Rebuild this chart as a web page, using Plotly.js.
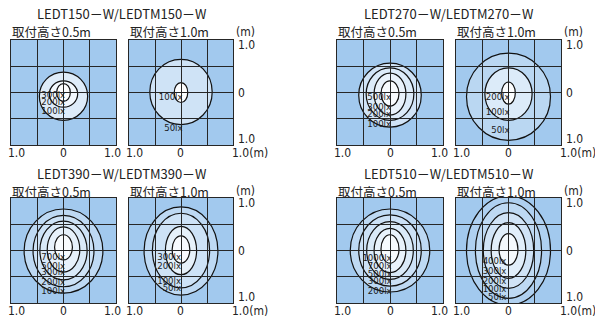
<!DOCTYPE html>
<html><head><meta charset="utf-8">
<script src="https://cdn.plot.ly/plotly-3.0.1.min.js"></script>
<style>html,body{margin:0;padding:0;background:#fff}</style>
</head><body><div id="chart" style="width:595px;height:320px"></div>
<script>
// ---------- data ----------
const models = ["LEDT150－W/LEDTM150－W", "LEDT270－W/LEDTM270－W", "LEDT390－W/LEDTM390－W", "LEDT510－W/LEDTM510－W"];
const heights = ["取付高さ0.5m", "取付高さ1.0m"];
const xTickText = ["1.0", "0", "1.0"];
const yTickText = ["1.0", "0", "1.0"];

// each panel: contour levels (outer -> inner), ellipse centre y (m), semi-axes (m), labels
const p1Lux = [100, 200, 300];
const p1Cy = [-0.07, -0.03, 0.0];
const p1Rx = [0.46, 0.27, 0.13];
const p1Ry = [0.46, 0.25, 0.17];
const p1Labels = ["300lx", "200lx", "100lx"];
const p1LabelY = [-0.05, -0.2, -0.37];

const p2Lux = [50, 100];
const p2Cy = [0.01, 0.0];
const p2Rx = [0.6, 0.13];
const p2Ry = [0.62, 0.19];
const p2Labels = ["100lx", "50lx"];
const p2LabelY = [-0.1, -0.68];

const p3Lux = [100, 200, 300, 500];
const p3Cy = [-0.05, -0.03, -0.03, -0.02];
const p3Rx = [0.59, 0.45, 0.3, 0.17];
const p3Ry = [0.61, 0.5, 0.4, 0.24];
const p3Labels = ["500lx", "300lx", "200lx", "100lx"];
const p3LabelY = [-0.1, -0.28, -0.43, -0.62];

const p4Lux = [50, 100, 200];
const p4Cy = [-0.08, -0.03, -0.01];
const p4Rx = [0.8, 0.45, 0.13];
const p4Ry = [0.83, 0.5, 0.21];
const p4Labels = ["200lx", "100lx", "50lx"];
const p4LabelY = [-0.1, -0.39, -0.73];

const p5Lux = [100, 200, 300, 500, 700];
const p5Cy = [-0.01, -0.01, 0.0, 0.02, 0.06];
const p5Rx = [0.75, 0.58, 0.45, 0.31, 0.17];
const p5Ry = [0.8, 0.68, 0.56, 0.43, 0.24];
const p5Labels = ["700lx", "500lx", "300lx", "200lx", "100lx"];
const p5LabelY = [-0.14, -0.31, -0.43, -0.62, -0.79];

const p6Lux = [50, 100, 200, 300];
const p6Cy = [-0.01, 0.0, 0.0, 0.02];
const p6Rx = [0.71, 0.55, 0.3, 0.17];
const p6Ry = [0.84, 0.71, 0.46, 0.26];
const p6Labels = ["300lx", "200lx", "100lx", "50lx"];
const p6LabelY = [-0.14, -0.31, -0.6, -0.73];

const p7Lux = [200, 300, 500, 700, 1000];
const p7Cy = [0.0, 0.0, 0.0, 0.0, 0.03];
const p7Rx = [0.75, 0.59, 0.44, 0.3, 0.17];
const p7Ry = [0.79, 0.68, 0.55, 0.42, 0.27];
const p7Labels = ["1000lx", "700lx", "500lx", "300lx", "200lx"];
const p7LabelY = [-0.16, -0.31, -0.45, -0.6, -0.79];

const p8Lux = [50, 100, 200, 300, 400];
const p8Cy = [0.0, 0.0, 0.0, 0.0, 0.02];
const p8Rx = [0.8, 0.63, 0.48, 0.33, 0.18];
const p8Ry = [1.04, 0.91, 0.72, 0.53, 0.3];
const p8Labels = ["400lx", "300lx", "200lx", "100lx", "50lx"];
const p8LabelY = [-0.22, -0.41, -0.6, -0.75, -0.9];

// ---------- layout helpers ----------
const W = 595, H = 320;
const px = x => x / W;
const py = y => 1 - y / H;
const boxes = [[11,116,40,145],[129,233,40,145],[337,443,40,145],[456,561,40,145],
               [11,116,198,303],[129,233,198,303],[337,443,198,303],[456,561,198,303]];
const panels = [
  {cy:p1Cy, rx:p1Rx, ry:p1Ry, lab:p1Labels, labY:p1LabelY, labX:0.03},
  {cy:p2Cy, rx:p2Rx, ry:p2Ry, lab:p2Labels, labX:0.03, labY:p2LabelY},
  {cy:p3Cy, rx:p3Rx, ry:p3Ry, lab:p3Labels, labY:p3LabelY, labX:0.02},
  {cy:p4Cy, rx:p4Rx, ry:p4Ry, lab:p4Labels, labY:p4LabelY, labX:0.02},
  {cy:p5Cy, rx:p5Rx, ry:p5Ry, lab:p5Labels, labY:p5LabelY, labX:0.03},
  {cy:p6Cy, rx:p6Rx, ry:p6Ry, lab:p6Labels, labY:p6LabelY, labX:0.0},
  {cy:p7Cy, rx:p7Rx, ry:p7Ry, lab:p7Labels, labY:p7LabelY, labX:0.03},
  {cy:p8Cy, rx:p8Rx, ry:p8Ry, lab:p8Labels, labY:p8LabelY, labX:-0.04}
];
const BG = [162, 201, 238];
const mix = t => 'rgb(' + BG.map(c => Math.round(c + (255 - c) * t)).join(',') + ')';
const TXT = '#222';
const jpFont = {family: 'Noto Sans CJK JP, Noto Sans, sans-serif', size: 12.5, color: TXT};
const numFont = {family: 'Liberation Sans Narrow, DejaVu Sans Condensed, Liberation Sans, sans-serif', size: 12, color: TXT};
const labFont = {family: 'Liberation Sans Narrow, DejaVu Sans Condensed, Liberation Sans, sans-serif', size: 9.5, color: '#1a1a1a'};

const traces = [], shapes = [], annotations = [];
const layout = {
  width: W, height: H, margin: {l:0, r:0, t:0, b:0},
  paper_bgcolor: '#fff', plot_bgcolor: mix(0), showlegend: false,
  font: {family: 'Liberation Sans, sans-serif', color: TXT}
};

panels.forEach((p, i) => {
  const n = i + 1, sfx = n > 1 ? String(n) : '';
  const xa = 'x' + sfx, ya = 'y' + sfx;
  const b = boxes[i];
  const axBase = {range: [-1, 1], dtick: 0.5, tick0: 0, showgrid: true, gridcolor: '#262626', gridwidth: 1,
    showline: true, mirror: true, linecolor: '#262626', linewidth: 1, zeroline: false,
    showticklabels: false, ticks: '', fixedrange: true};
  layout['xaxis' + sfx] = Object.assign({}, axBase, {domain: [px(b[0]), px(b[1])], anchor: ya});
  layout['yaxis' + sfx] = Object.assign({}, axBase, {domain: [py(b[3]), py(b[2])], anchor: xa});
  p.rx.forEach((rx, j) => {
    const r = (rx + p.ry[j]) / 2;
    const t = Math.min(1, Math.max(0.12, 1.15 - 1.1 * r));
    shapes.push({type: 'circle', xref: xa, yref: ya, layer: 'below',
      x0: -rx, x1: rx, y0: p.cy[j] - p.ry[j], y1: p.cy[j] + p.ry[j],
      fillcolor: mix(t), line: {color: '#111', width: 1.2}});
  });
  traces.push({type: 'scatter', mode: 'text', xaxis: xa, yaxis: ya,
    x: p.lab.map(() => p.labX), y: p.labY, text: p.lab,
    textposition: 'middle left', textfont: labFont, hoverinfo: 'skip', cliponaxis: false});

  // subtitle
  const row = i < 4 ? 0 : 1;
  const subY = row === 0 ? 32 : 191;
  annotations.push({xref: 'paper', yref: 'paper', x: px(b[0] - 1), y: py(subY), xanchor: 'left', yanchor: 'middle',
    text: heights[i % 2], showarrow: false, font: jpFont});
  // bottom x tick labels
  const tickY = row === 0 ? 153 : 311;
  const cx = (b[0] + b[1]) / 2;
  if (i % 2 === 0) {
    [b[0] + 5, cx, b[1] - 4].forEach((xx, k) => annotations.push({xref: 'paper', yref: 'paper', x: px(xx), y: py(tickY),
      xanchor: 'center', yanchor: 'middle', text: xTickText[k], showarrow: false, font: numFont}));
  } else {
    [b[0] + 5, cx].forEach((xx, k) => annotations.push({xref: 'paper', yref: 'paper', x: px(xx), y: py(tickY),
      xanchor: 'center', yanchor: 'middle', text: xTickText[k], showarrow: false, font: numFont}));
    annotations.push({xref: 'paper', yref: 'paper', x: px(b[1] - 3), y: py(tickY), xanchor: 'left', yanchor: 'middle',
      text: xTickText[2] + '(m)', showarrow: false, font: numFont});
    // right y labels
    [b[2] + 5, (b[2] + b[3]) / 2, b[3] - 6].forEach((yy, k) => annotations.push({xref: 'paper', yref: 'paper',
      x: px(b[1] + 3), y: py(yy), xanchor: 'left', yanchor: 'middle', text: yTickText[k], showarrow: false, font: numFont}));
    annotations.push({xref: 'paper', yref: 'paper', x: px(b[1] + 1), y: py(subY), xanchor: 'left', yanchor: 'middle',
      text: '(m)', showarrow: false, font: numFont});
    // model title
    const titleY = row === 0 ? 14 : 173;
    annotations.push({xref: 'paper', yref: 'paper', x: px((boxes[i - 1][0] + b[1]) / 2), y: py(titleY),
      xanchor: 'center', yanchor: 'middle', text: models[(i - 1) / 2], showarrow: false,
      font: {family: 'Noto Sans CJK JP, Noto Sans, sans-serif', size: 13, color: TXT}});
  }
});
layout.shapes = shapes;
layout.annotations = annotations;
Plotly.newPlot('chart', traces, layout, {displayModeBar: false, staticPlot: true});
</script>
</body></html>
